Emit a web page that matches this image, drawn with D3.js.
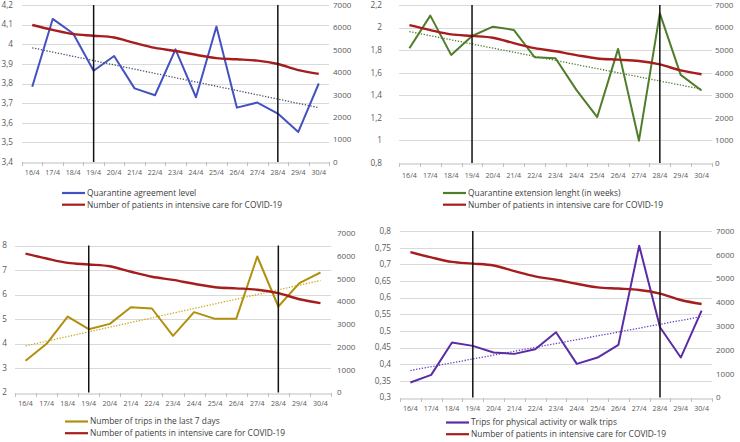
<!DOCTYPE html>
<html><head><meta charset="utf-8">
<script src="https://cdn.jsdelivr.net/npm/d3@7"></script>
<style>
html,body{margin:0;padding:0;background:#fff;}
svg{display:block;font-family:"Open Sans",sans-serif;}
</style></head>
<body><svg id="c" width="740" height="442"></svg>
<script>
const categories = ["16/4","17/4","18/4","19/4","20/4","21/4","22/4","23/4","24/4","25/4","26/4","27/4","28/4","29/4","30/4"];
const icuPatients = [6110,5890,5700,5630,5550,5310,5090,4950,4780,4630,4580,4520,4370,4100,3930];
const agreementLevel = [3.783,4.129,4.055,3.865,3.94,3.775,3.74,3.974,3.73,4.09,3.677,3.703,3.647,3.553,3.80];
const extensionLength = [1.817,2.106,1.758,1.925,2.008,1.979,1.737,1.728,1.448,1.207,1.811,0.998,2.126,1.581,1.443];
const tripsLast7 = [3.293,3.986,5.10,4.585,4.80,5.483,5.429,4.313,5.279,5.007,5.007,7.551,5.51,6.463,6.898];
const walkTrips = [0.345,0.368,0.465,0.455,0.435,0.431,0.445,0.496,0.401,0.42,0.458,0.756,0.511,0.42,0.561];
const trendAgreement = [3.982,3.677];
const trendExtension = [1.964,1.454];
const trendTrips = [3.905,6.571];
const trendWalk = [0.381,0.543];
const markerDays = ["19/4","28/4"];
const leftTicks1 = [3.4,3.5,3.6,3.7,3.8,3.9,4,4.1,4.2];
const leftTicks2 = [0.8,1,1.2,1.4,1.6,1.8,2,2.2];
const leftTicks3 = [2,3,4,5,6,7,8];
const leftTicks4 = [0.3,0.35,0.4,0.45,0.5,0.55,0.6,0.65,0.7,0.75,0.8];
const rightTicks = [0,1000,2000,3000,4000,5000,6000,7000];
const seriesNames = ["Quarantine agreement level","Quarantine extension lenght (in weeks)","Number of trips in the last 7 days","Trips for physical activity or walk trips"];
const icuName = "Number of patients in intensive care for COVID-19";

const svg = d3.select("#c");
const fmt = v => String(+v.toFixed(2)).replace(".", ",");
const RED = "#a51d1d";

const panels = [
  {name:seriesNames[0], data:agreementLevel, trend:trendAgreement, ticks:leftTicks1, color:"#4352c0", trendColor:"#44546a",
   x0:22, x1:329, yTop:5, yBot:162, rTop:5, leftX:13, rightX:333, tickY:173, legX:62, legY:193},
  {name:seriesNames[1], data:extensionLength, trend:trendExtension, ticks:leftTicks2, color:"#4f7d2a", trendColor:"#4f7d2a",
   x0:399, x1:712, yTop:5, yBot:163, rTop:5, leftX:382, rightX:715, tickY:175.5, legX:443, legY:193},
  {name:seriesNames[2], data:tripsLast7, trend:trendTrips, ticks:leftTicks3, color:"#b0900f", trendColor:"#c9a818",
   x0:15, x1:331, yTop:245.5, yBot:392.5, rTop:233.3, leftX:7, rightX:337, tickY:403.5, legX:65, legY:421.5},
  {name:seriesNames[3], data:walkTrips, trend:trendWalk, ticks:leftTicks4, color:"#5a2ca5", trendColor:"#6a3cc0",
   x0:400, x1:712, yTop:231, yBot:397.5, rTop:231, leftX:391, rightX:716, tickY:408.5, legX:446, legY:422.5}
];

panels.forEach(p => {
  const g = svg.append("g");
  const x = d3.scaleBand().domain(categories).range([p.x0, p.x1]);
  const cx = c => x(c) + x.bandwidth()/2;
  const y = d3.scaleLinear().domain(d3.extent(p.ticks)).range([p.yBot, p.yTop]);
  const yr = d3.scaleLinear().domain([0,7000]).range([p.yBot, p.rTop]);

  g.append("g").selectAll("line").data(p.ticks.slice(1)).join("line")
    .attr("x1", p.x0).attr("x2", p.x1)
    .attr("y1", d => Math.round(y(d))+0.5).attr("y2", d => Math.round(y(d))+0.5)
    .attr("stroke", "#d9d9d9").attr("stroke-width", 1);

  g.append("g").selectAll("text").data(p.ticks).join("text")
    .attr("x", p.leftX).attr("y", d => y(d)).attr("dy", "0.35em")
    .attr("text-anchor", "end").attr("font-size", 8.2).attr("fill", "#595959")
    .text(fmt);
  g.append("g").selectAll("text").data(rightTicks).join("text")
    .attr("x", p.rightX).attr("y", d => yr(d)).attr("dy", "0.35em")
    .attr("text-anchor", "start").attr("font-size", 8).attr("fill", "#595959")
    .text(d => d);

  const xa = g.append("g").attr("transform", `translate(0,${Math.round(p.yBot)+0.5})`)
    .call(d3.axisBottom(x).tickSize(0).tickPadding(0).tickFormat(""));
  xa.select(".domain").attr("stroke", "#bfbfbf");
  xa.selectAll(".tick").remove();
  const edges = categories.map(c => x(c)).concat([p.x1]);
  g.append("g").selectAll("line").data(edges).join("line")
    .attr("x1", d => Math.round(d)+0.5).attr("x2", d => Math.round(d)+0.5)
    .attr("y1", Math.round(p.yBot)).attr("y2", Math.round(p.yBot)+4)
    .attr("stroke", "#bfbfbf");
  g.append("g").selectAll("text").data(categories).join("text")
    .attr("x", cx).attr("y", p.tickY).attr("dy", "0.35em")
    .attr("text-anchor", "middle").attr("font-size", 7.1).attr("fill", "#595959")
    .text(d => d);

  g.append("line")
    .attr("x1", cx(categories[0])).attr("y1", y(p.trend[0]))
    .attr("x2", cx(categories[categories.length-1])).attr("y2", y(p.trend[1]))
    .attr("stroke", p.trendColor).attr("stroke-width", 1.3).attr("stroke-dasharray", "1.3,1.6");

  const line = d3.line().x((d,i) => cx(categories[i])).y(d => y(d));
  g.append("path").datum(p.data).attr("d", line)
    .attr("fill", "none").attr("stroke", p.color).attr("stroke-width", 2).attr("stroke-linejoin", "round");

  const lineR = d3.line().x((d,i) => cx(categories[i])).y(d => yr(d)).curve(d3.curveMonotoneX);
  g.append("path").datum(icuPatients).attr("d", lineR)
    .attr("fill", "none").attr("stroke", RED).attr("stroke-width", 2.4).attr("stroke-linejoin", "round");

  g.append("g").selectAll("line").data(markerDays).join("line")
    .attr("x1", d => cx(d)).attr("x2", d => cx(d))
    .attr("y1", p.yTop).attr("y2", p.yBot)
    .attr("stroke", "#111").attr("stroke-width", 1.5);

  const leg = [{n:p.name, c:p.color},{n:icuName, c:RED}];
  leg.forEach((l,i) => {
    const ly = p.legY + i*11.7;
    g.append("line").attr("x1", p.legX).attr("x2", p.legX+23).attr("y1", ly).attr("y2", ly)
      .attr("stroke", l.c).attr("stroke-width", 2.2);
    g.append("text").attr("x", p.legX+25).attr("y", ly).attr("dy", "0.35em")
      .attr("font-size", 8.4).attr("fill", "#404040").text(l.n);
  });
});
</script></body></html>
